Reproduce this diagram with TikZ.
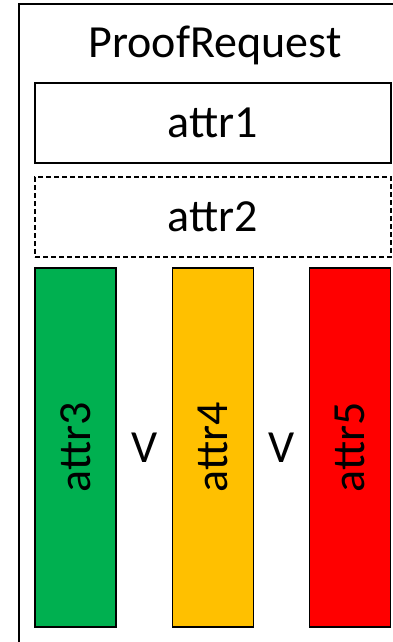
\documentclass[tikz,border=0pt]{standalone}
\usepackage{fontspec}
\setmainfont{Carlito}
\usetikzlibrary{calc}
\definecolor{attrgreen}{HTML}{00B050}
\definecolor{attryellow}{HTML}{FFC000}
\definecolor{attrred}{HTML}{FF0000}
\tikzset{
  attrbox/.style={draw, line width=1.2pt, minimum width=356pt, minimum height=80pt,
    inner sep=0pt, font=\fontsize{46}{52}\selectfont},
  attrbar/.style={draw, line width=1.2pt, minimum width=359pt, minimum height=81pt,
    inner sep=0pt, rotate=90, font=\fontsize{46}{52}\selectfont},
  orsign/.style={font=\fontsize{46}{52}\selectfont, inner sep=0pt}
}
\begin{document}
\begin{tikzpicture}[x=1pt,y=-1pt]
   \useasboundingbox (0,0) rectangle (393,642);
   \draw[line width=1.2pt] (19,4) rectangle (420,670);
   \node[font=\fontsize{46}{52}\selectfont, anchor=base] (title) at (215,58) {ProofRequest};

   \node[attrbox] (attr1) at (213,123) {attr1};
   \node[attrbox, dashed, dash pattern=on 5pt off 3pt] (attr2) at (213,217) {attr2};

   \node[attrbar, fill=attrgreen] (attr3) at (75.5,447.5) {attr3};
   \node[attrbar, fill=attryellow] (attr4) at (213,447.5) {attr4};
   \node[attrbar, fill=attrred] (attr5) at (350,447.5) {attr5};

   \node[orsign] (or1) at ($(attr3)!0.5!(attr4)$) {V};
   \node[orsign] (or2) at ($(attr4)!0.5!(attr5)$) {V};
\end{tikzpicture}
\end{document}
